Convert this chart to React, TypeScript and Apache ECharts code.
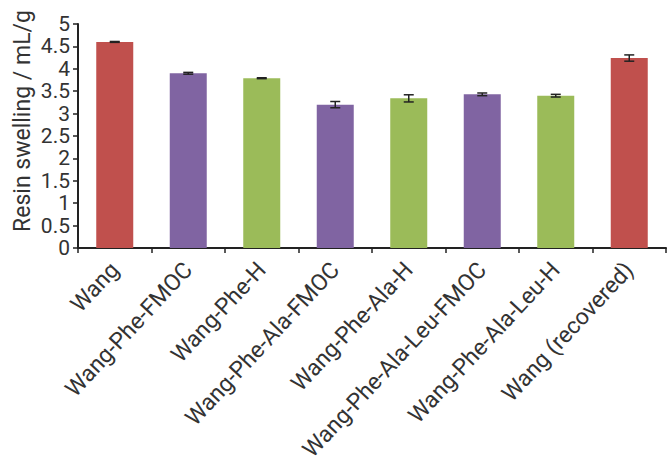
import React, { useEffect, useRef } from "react";
import * as echarts from "echarts";

const categories = [
  "Wang",
  "Wang-Phe-FMOC",
  "Wang-Phe-H",
  "Wang-Phe-Ala-FMOC",
  "Wang-Phe-Ala-H",
  "Wang-Phe-Ala-Leu-FMOC",
  "Wang-Phe-Ala-Leu-H",
  "Wang (recovered)",
];
const swelling = [4.6, 3.9, 3.79, 3.2, 3.34, 3.43, 3.4, 4.24];
const errors = [0.01, 0.02, 0.01, 0.07, 0.08, 0.03, 0.03, 0.07];
const barColors = ["#c0504d", "#8064a2", "#9bbb59", "#8064a2", "#9bbb59", "#8064a2", "#9bbb59", "#c0504d"];
const yTitle = "Resin swelling / mL/g";

const FONT = "Roboto, Arial, sans-serif";

export default function App() {
  const ref = useRef<HTMLDivElement>(null);
  useEffect(() => {
    if (!ref.current) return;
    const chart = echarts.init(ref.current, undefined, { renderer: "svg" });
    const errData = swelling.map((v, i) => [i, v - errors[i], v + errors[i]]);
    chart.setOption({
      animation: false,
      backgroundColor: "#ffffff",
      grid: { left: 78, right: 1, top: 24, bottom: 217, containLabel: false },
      xAxis: {
        type: "category",
        data: categories,
        boundaryGap: true,
        axisLine: { show: true, lineStyle: { color: "#222", width: 2 } },
        axisTick: { show: true, length: 5, lineStyle: { color: "#222", width: 1.5 } },
        axisLabel: {
          interval: 0,
          rotate: 47,
          margin: 18,
          fontSize: 23,
          fontFamily: FONT,
          color: "#333",
          hideOverlap: false,
        },
        splitLine: { show: false },
      },
      yAxis: {
        type: "value",
        min: 0,
        max: 5,
        interval: 0.5,
        axisLine: { show: true, lineStyle: { color: "#222", width: 2 } },
        axisTick: { show: true, length: 5, inside: false, lineStyle: { color: "#222", width: 1.5 } },
        axisLabel: {
          margin: 8,
          fontSize: 21,
          lineHeight: 21,
          fontFamily: FONT,
          color: "#333",
          showMinLabel: true,
          showMaxLabel: true,
          hideOverlap: false,
        },
        splitLine: { show: false },
      },
      graphic: [
        {
          type: "text",
          x: 22,
          y: 121,
          rotation: Math.PI / 2,
          style: {
            text: yTitle,
            fontSize: 23,
            fontFamily: FONT,
            fill: "#333",
            textAlign: "center",
            textVerticalAlign: "middle",
          },
        },
      ],
      series: [
        {
          type: "bar",
          barWidth: 37,
          data: swelling.map((v, i) => ({ value: v, itemStyle: { color: barColors[i] } })),
        },
        {
          type: "custom",
          data: errData,
          z: 10,
          renderItem: (params: any, api: any) => {
            const x = api.value(0);
            const lo = api.coord([x, api.value(1)]);
            const hi = api.coord([x, api.value(2)]);
            const cap = 5;
            const style = { stroke: "#222", lineWidth: 1.5 };
            return {
              type: "group",
              children: [
                { type: "line", shape: { x1: lo[0], y1: lo[1], x2: hi[0], y2: hi[1] }, style },
                { type: "line", shape: { x1: lo[0] - cap, y1: lo[1], x2: lo[0] + cap, y2: lo[1] }, style },
                { type: "line", shape: { x1: hi[0] - cap, y1: hi[1], x2: hi[0] + cap, y2: hi[1] }, style },
              ],
            };
          },
        },
      ],
    });
    return () => chart.dispose();
  }, []);
  return (
    <div
      ref={ref}
      style={{ position: "fixed", left: 0, top: 0, width: 667, height: 465, background: "#fff" }}
    />
  );
}
